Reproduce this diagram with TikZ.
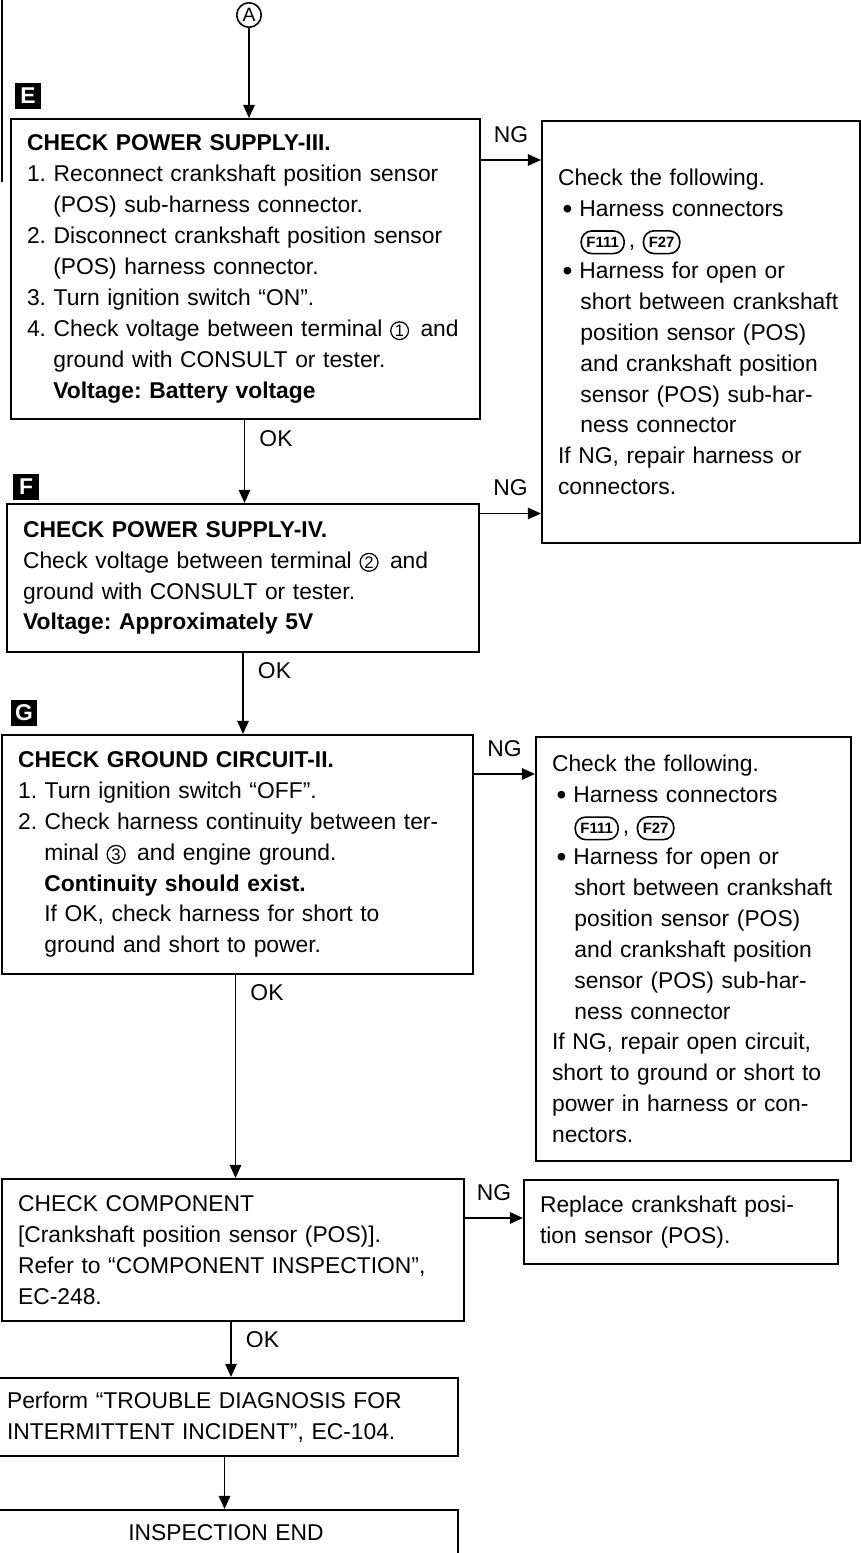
\documentclass[tikz,border=0pt]{standalone}
\usepackage{fontspec}
\setmainfont{Liberation Sans}
\usetikzlibrary{arrows.meta,positioning}
\frenchspacing

% circled terminal number and harness connector tag
\newcommand\cnum[1]{\tikz[baseline=(c.base)]\node[circle, draw, line width=0.7pt, minimum size=0pt,
  text width={}, inner sep=0.6pt, font=\fontsize{9.5}{9.5}\selectfont](c){#1};}
\newcommand\conn[1]{\tikz[baseline=(t.base)]\node[draw, line width=0.9pt, rounded corners=6pt, minimum size=0pt,
  text width={}, inner xsep=3pt, inner ysep=3.5pt, font=\fontsize{8.5}{8.5}\selectfont\bfseries](t){#1};}
\newcommand\hind{\hspace*{1.15em}}
\newcommand\bul{\hspace*{0.2em}\raisebox{-1pt}{\fontsize{16}{16}\selectfont\textbullet}\hspace{0.3em}}
\newcommand\bind{\hspace*{0.98em}}

\begin{document}
\begin{tikzpicture}[
  x=0.02cm, y=-0.02cm,
  >={Triangle[length=7.5pt,width=6.5pt]},
  line width=1.1pt,
  box/.style={draw, line width=1.2pt, anchor=north west, align=left, inner xsep=0.32cm, inner ysep=0.1cm,
    font=\fontsize{13}{17.6}\selectfont},
  steplbl/.style={fill=black, text=white, font=\fontsize{13}{13}\selectfont\bfseries, minimum size=0.52cm, inner sep=0pt},
  label/.style={font=\fontsize{13}{15}\selectfont, inner sep=2pt}
]
  \useasboundingbox (0,0) rectangle (862,1553);

  % page edge
  \draw (2,0) -- (2,182);

  \node[circle, draw, line width=0.9pt, inner sep=1.2pt, font=\fontsize{11}{11}\selectfont] (A) at (249,15) {A};

  % Checks
  \node[steplbl] (lblE) at (28,96) {E};
  \node[box, text width=8.74cm, minimum height=6cm] (E) at (10,118) {%
    \textbf{CHECK POWER SUPPLY-III.}\\
    1. Reconnect crankshaft position sensor\\
    \hind(POS) sub-harness connector.\\
    2. Disconnect crankshaft position sensor\\
    \hind(POS) harness connector.\\
    3. Turn ignition switch “ON”.\\
    4. Check voltage between terminal \cnum{1}\hspace{0.5em}and\\
    \hind ground with CONSULT or tester.\\
    \hind\textbf{Voltage: Battery voltage}};

  \node[steplbl] (lblF) at (26,487) {F};
  \node[box, text width=8.80cm, minimum height=2.96cm] (F) at (6,503) {%
    \textbf{CHECK POWER SUPPLY-IV.}\\
    Check voltage between terminal \cnum{2}\hspace{0.5em}and\\
    ground with CONSULT or tester.\\
    \textbf{Voltage: Approximately 5V}};

  \node[steplbl] (lblG) at (24,713) {G};
  \node[box, text width=8.78cm, minimum height=4.78cm] (G) at (1,734) {%
    \textbf{CHECK GROUND CIRCUIT-II.}\\
    1. Turn ignition switch “OFF”.\\
    2. Check harness continuity between ter-\\
    \hind minal \cnum{3}\hspace{0.5em}and engine ground.\\
    \hind\textbf{Continuity should exist.}\\
    \hind If OK, check harness for short to\\
    \hind ground and short to power.};

  \node[box, text width=8.60cm, minimum height=2.84cm] (H) at (1,1178) {%
    CHECK COMPONENT\\
    {[}Crankshaft position sensor (POS)].\\
    Refer to “COMPONENT INSPECTION”,\\
    EC-248.};

  \node[box, text width=8.70cm, minimum height=1.56cm] (I) at (-10,1377) {%
    Perform “TROUBLE DIAGNOSIS FOR\\
    INTERMITTENT INCIDENT”, EC-104.};

  \node[box, align=center, text width=8.64cm, minimum height=0.92cm] (J) at (-7,1509) {INSPECTION END};

  % NG results
  \node[box, text width=5.72cm, minimum height=8.44cm] (R1) at (541,120) {%
    Check the following.\\
    \bul Harness connectors\\
    \bind\conn{F111}\,, \conn{F27}\\
    \bul Harness for open or\\
    \bind short between crankshaft\\
    \bind position sensor (POS)\\
    \bind and crankshaft position\\
    \bind sensor (POS) sub-har-\\
    \bind ness connector\\
    If NG, repair harness or\\
    connectors.};

  \node[box, text width=5.66cm, minimum height=8.48cm] (R2) at (535,736) {%
    Check the following.\\
    \bul Harness connectors\\
    \bind\conn{F111}\,, \conn{F27}\\
    \bul Harness for open or\\
    \bind short between crankshaft\\
    \bind position sensor (POS)\\
    \bind and crankshaft position\\
    \bind sensor (POS) sub-har-\\
    \bind ness connector\\
    If NG, repair open circuit,\\
    short to ground or short to\\
    power in harness or con-\\
    nectors.};

  \node[box, text width=5.64cm, minimum height=1.68cm] (R3) at (523,1179) {%
    Replace crankshaft posi-\\
    tion sensor (POS).};

  % OK flow
  \draw[->] (A) -- (A |- E.north);
  \draw[->] ([xshift=-0.02cm]E.south) -- ([xshift=-0.02cm]E.south |- F.north)
    node[label, pos=0, anchor=north west, xshift=0.21cm, yshift=-0.12cm] {OK};
  \draw[->] (F.south) -- (F.south |- G.north)
    node[label, pos=0, anchor=north west, xshift=0.21cm, yshift=-0.1cm] {OK};
  \draw[->] ([xshift=-0.04cm]G.south) -- ([xshift=-0.04cm]G.south |- H.north)
    node[label, pos=0, anchor=north west, xshift=0.21cm, yshift=-0.1cm] {OK};
  \draw[->] ([xshift=-0.04cm]H.south) -- ([xshift=-0.04cm]H.south |- I.north)
    node[label, pos=0, anchor=north west, xshift=0.21cm, yshift=-0.1cm] {OK};
  \draw[->] (I.south) -- (I.south |- J.north);

  % NG flow
  \coordinate (ngE) at ([yshift=-0.84cm]E.north east);
  \coordinate (ngF) at ([yshift=-0.21cm]F.north east);
  \coordinate (ngG) at ([yshift=-0.8cm]G.north east);
  \coordinate (ngH) at ([yshift=-0.8cm]H.north east);
  \draw[->] (ngE) -- (ngE -| R1.west) node[label, midway, above=0.26cm] {NG};
  \draw[->] (ngF) -- (ngF -| R1.west) node[label, midway, above=0.26cm] {NG};
  \draw[->] (ngG) -- (ngG -| R2.west) node[label, midway, above=0.26cm] {NG};
  \draw[->] (ngH) -- (ngH -| R3.west) node[label, midway, above=0.26cm] {NG};

\end{tikzpicture}
\end{document}
